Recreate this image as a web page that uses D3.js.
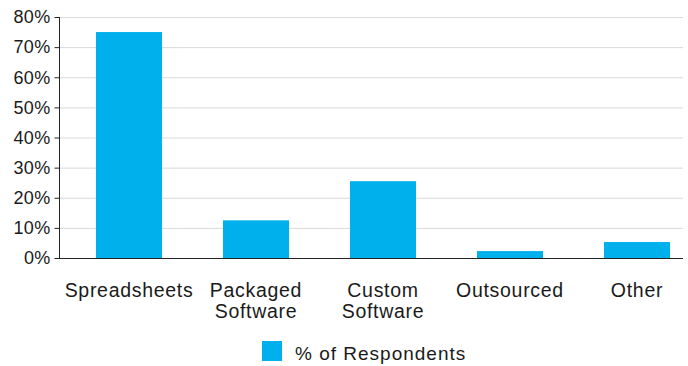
<!DOCTYPE html>
<html><head><meta charset="utf-8">
<script src="https://cdn.jsdelivr.net/npm/d3@7"></script>
<style>
html,body{margin:0;padding:0;background:#fff;}
text{font-family:"Liberation Sans",Arial,sans-serif;fill:#1a1a1a;}
</style></head>
<body><svg id="c" width="688" height="366"></svg>
<script>
const categories = [["Spreadsheets"],["Packaged","Software"],["Custom","Software"],["Outsourced"],["Other"]];
const values = [75, 12.5, 25.5, 2.3, 5.3];
const yTicks = [0,10,20,30,40,50,60,70,80];
const seriesName = "% of Respondents";
const color = "#00b0ec";

const svg = d3.select("#c");
const x0 = 59, x1 = 683, yTop = 17, yBot = 258;
const keys = categories.map((d,i)=>i);
const x = d3.scaleBand().domain(keys).range([65.5,700.5]).paddingInner(0.48).paddingOuter(0.24);
const y = d3.scaleLinear().domain([0,80]).range([yBot,yTop]);

svg.append("g").selectAll("line").data(yTicks.filter(d=>d>0)).join("line")
  .attr("x1",x0).attr("x2",x1).attr("y1",d=>y(d)+0.5).attr("y2",d=>y(d)+0.5)
  .attr("stroke","#d9d9d9").attr("stroke-width",1);

svg.append("g").selectAll("rect").data(values).join("rect")
  .attr("x",(d,i)=>x(i)).attr("width",x.bandwidth())
  .attr("y",d=>y(d)).attr("height",d=>yBot-y(d)).attr("fill",color);

const ya = svg.append("g").attr("transform",`translate(${x0+0.5},0)`)
  .call(d3.axisLeft(y).tickValues(yTicks).tickSize(5).tickFormat(d=>d+"%"));
ya.select(".domain").attr("stroke","#222").attr("d",`M0,${yTop}V${yBot}`);
ya.selectAll(".tick line").attr("stroke","#222");
ya.selectAll(".tick text").attr("x",-9).attr("font-size",18).attr("letter-spacing",0.3)
  .attr("font-family","Liberation Sans, Arial, sans-serif").attr("fill","#1a1a1a");

svg.append("line").attr("x1",x0).attr("x2",x1).attr("y1",yBot+0.5).attr("y2",yBot+0.5).attr("stroke","#222");

const lab = svg.append("g").selectAll("text").data(categories).join("text")
  .attr("text-anchor","middle").attr("font-size",19.5).attr("letter-spacing",0.7)
  .attr("transform",(d,i)=>`translate(${x(i)+x.bandwidth()/2},297)`);
lab.selectAll("tspan").data(d=>d).join("tspan").attr("x",0).attr("dy",(d,j)=>j?21:0).text(d=>d);

svg.append("rect").attr("x",262).attr("y",341).attr("width",20).attr("height",20).attr("fill",color);
svg.append("text").attr("x",295).attr("y",360).attr("font-size",19).attr("letter-spacing",1).text(seriesName);
</script></body></html>
